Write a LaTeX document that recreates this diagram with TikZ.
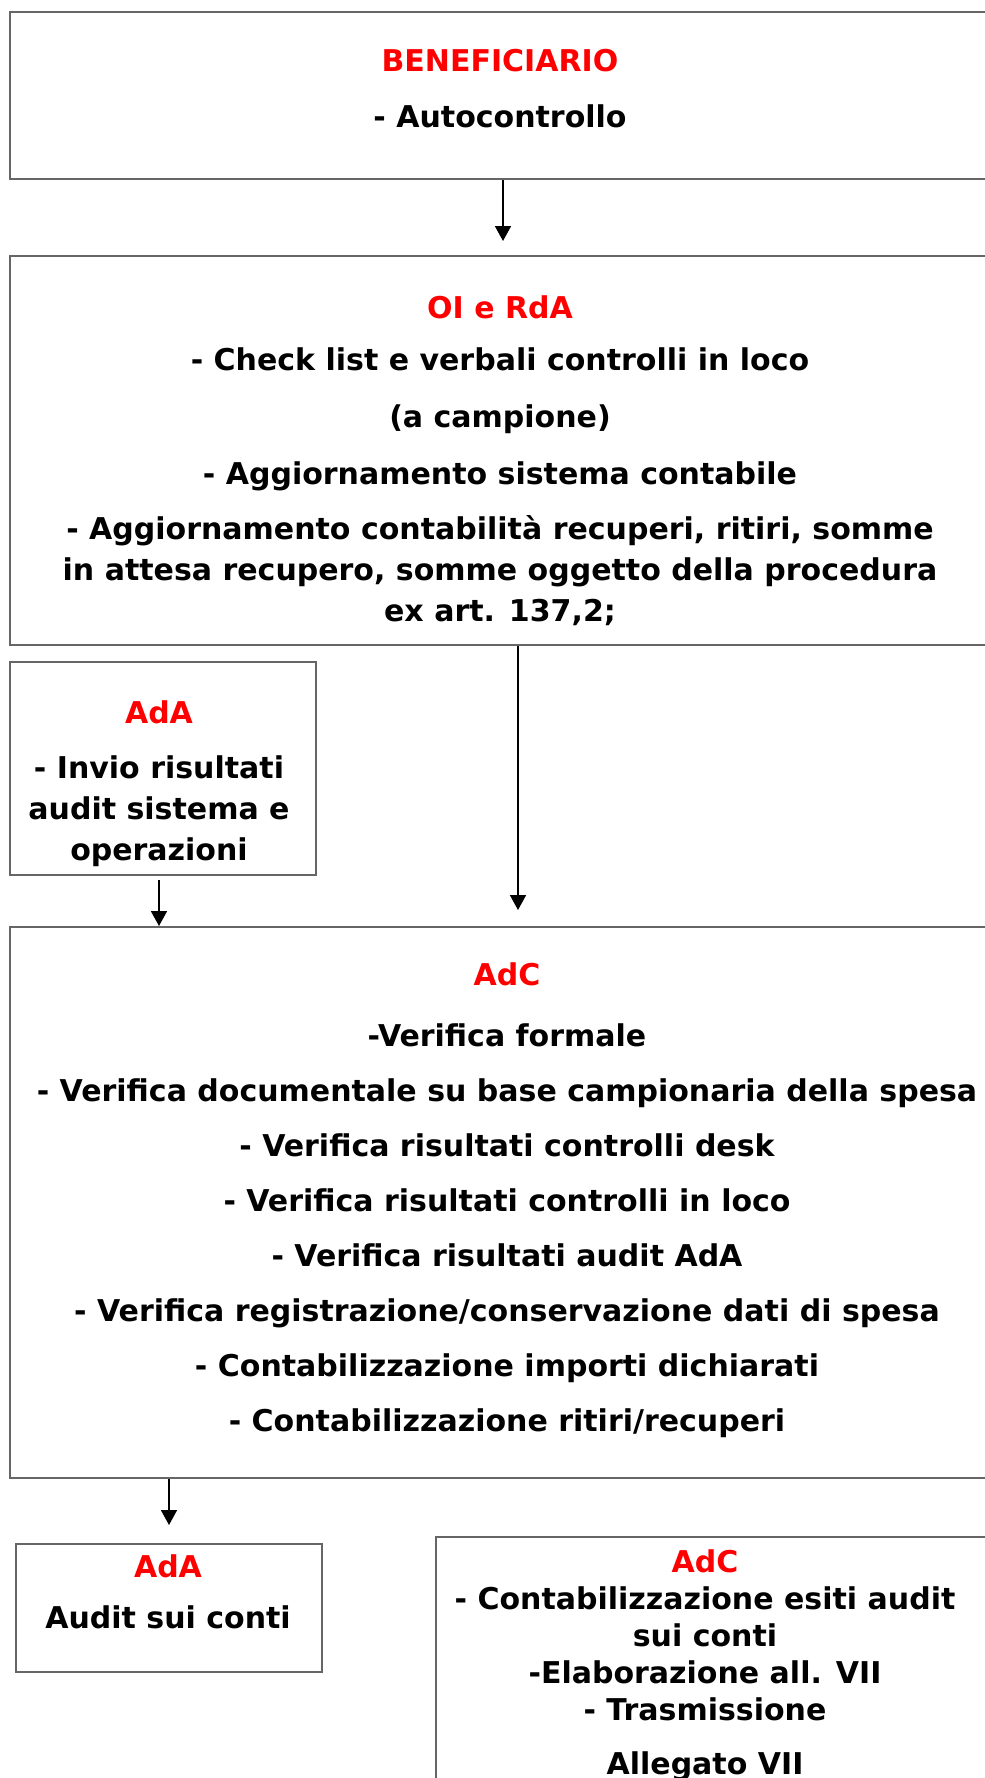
\documentclass[tikz,border=0pt]{standalone}
\usepackage{fontspec}
\setmainfont{DejaVu Sans}
\usetikzlibrary{arrows.meta}
\newcommand{\who}[1]{\textcolor{red}{#1}}
\tikzset{
  box/.style={draw=black!60, line width=1pt, anchor=north west, inner sep=0pt},
  txt/.style={align=center, anchor=north, inner sep=0pt, font=\bfseries\fontsize{15}{20.5}\selectfont},
  arr/.style={-{Triangle[length=7.5pt,width=8pt]}, line width=0.9pt},
}
\begin{document}
\begin{tikzpicture}[x=0.5pt,y=-0.5pt]
\useasboundingbox (0,0) rectangle (985,1778);
\clip (0,0) rectangle (985,1778);

% boxes
\node[box, minimum width=493pt, minimum height=83.5pt] (bene) at (9,11) {};
\node[box, minimum width=493pt, minimum height=194.5pt] (oi) at (9,255) {};
\node[box, minimum width=153pt, minimum height=106.5pt] (ada) at (9,661) {};
\node[box, minimum width=493pt, minimum height=275.5pt] (adc) at (9,926) {};
\node[box, minimum width=153pt, minimum height=64pt] (adaconti) at (15,1543) {};
\node[box, minimum width=287.5pt, minimum height=150pt] (adcconti) at (435,1536) {};

% texts
\node[txt] (benetxt) at (500,49) {\who{BENEFICIARIO}\\[7.5pt] - Autocontrollo};
\node[txt] (oitxt) at (500,295) {\who{OI e RdA}\\[5.5pt]
  - Check list e verbali controlli in loco\\[8pt]
  (a campione)\\[8pt]
  - Aggiornamento sistema contabile\\[7pt]
  - Aggiornamento contabilità recuperi, ritiri, somme\\
  in attesa recupero, somme oggetto della procedura\\
  ex art. 137,2;};
\node[txt] (adatxt) at (159,700) {\who{AdA}\\[7pt] - Invio risultati\\ audit sistema e\\ operazioni};
\node[txt] (adctxt) at (507,962) {\who{AdC}\\[10pt]
  -Verifica formale\\[7pt]
  - Verifica documentale su base campionaria della spesa\\[7pt]
  - Verifica risultati controlli desk\\[7pt]
  - Verifica risultati controlli in loco\\[7pt]
  - Verifica risultati audit AdA\\[7pt]
  - Verifica registrazione/conservazione dati di spesa\\[7pt]
  - Contabilizzazione importi dichiarati\\[7pt]
  - Contabilizzazione ritiri/recuperi};
\node[txt] (adacontitxt) at (168,1554) {\who{AdA}\\[5pt] Audit sui conti};
\node[txt, font=\bfseries\fontsize{15}{18.5}\selectfont] (adccontitxt) at (705,1549) {\who{AdC}\\
  - Contabilizzazione esiti audit\\
  sui conti\\
  -Elaborazione all. VII\\
  - Trasmissione\\[8.5pt]
  Allegato VII};

% arrows
\draw[arr, shorten >=7pt] (bene.south) -- (bene.south |- oi.north);
\draw[arr, shorten >=8pt] ([xshift=7.5pt]oi.south) -- ([xshift=7.5pt]oi.south |- adc.north);
\draw[arr, shorten <=2pt] ([xshift=-2pt]ada.south) -- ([xshift=-2pt]ada.south |- adc.north);
\draw[arr, shorten >=9pt] (adc.south -| adaconti.north) -- (adaconti.north);
\end{tikzpicture}
\end{document}
